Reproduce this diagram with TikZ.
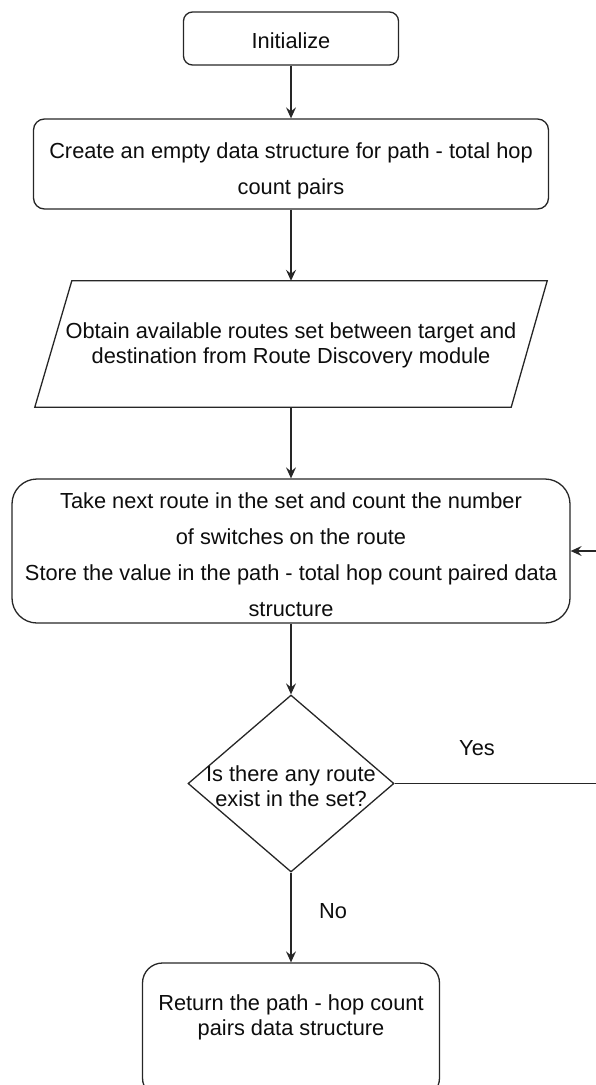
\documentclass[tikz,border=0pt]{standalone}
\usepackage{fontspec}
\setmainfont{Liberation Sans}
\usetikzlibrary{arrows.meta,shapes.geometric,calc}

\begin{document}
\begin{tikzpicture}[x=1pt,y=-1pt,
  line/.style={draw=black!85,line width=1.3pt},
  flow/.style={line,-{Stealth[length=11pt,width=10pt,inset=4pt]}},
  txt/.style={inner sep=0pt,align=center,text=black!95,
    font=\fontsize{21.8}{25}\selectfont},
  widetxt/.style={txt,font=\fontsize{21.8}{36}\selectfont},
  box/.style={line,rounded corners=#1,inner sep=0pt},
]
\useasboundingbox (0,0) rectangle (595,1085);

% process steps
\node[box=9pt,minimum width=215pt,minimum height=53pt,
  label={[txt,yshift=-2pt]center:Initialize}] (init) at (291,38.5) {};
\node[box=11pt,minimum width=515pt,minimum height=90pt,
  label={[widetxt,yshift=-7pt]center:{Create an empty data structure for path - total hop\\count pairs}}]
  (create) at (291,164) {};

% input/output step (parallelogram)
\node[inner sep=0pt,minimum width=512pt,minimum height=126pt,
  label={[txt,yshift=-1pt]center:{Obtain available routes set between target and\\destination from Route Discovery module}}]
  (routes) at (291,344) {};
\draw[line] ($(routes.north west)+(37,0)$) -- (routes.north east)
  -- ($(routes.south east)+(-36,0)$) -- (routes.south west) -- cycle;

\node[box=25pt,minimum width=558pt,minimum height=144pt,
  label={[widetxt,yshift=-4pt]center:{Take next route in the set and count the number\\of switches on the route\\Store the value in the path - total hop count paired data\\structure}}]
  (take) at (291,551) {};

% decision
\node[line,diamond,minimum width=206pt,minimum height=177pt,inner sep=0pt,
  label={[txt,yshift=-3pt]center:{Is there any route\\exist in the set?}}] (check) at (291,783.5) {};

\node[box=20pt,minimum width=297pt,minimum height=135pt,
  label={[txt,yshift=13.5pt]center:{Return the path - hop count\\pairs data structure}}] (ret) at (291,1030.5) {};

% branch labels
\node[txt] (yes) at (477,748) {Yes};
\node[txt] (no) at (333,911) {No};

% connectors
\coordinate (loop) at (608,783.5);
\draw[flow] (init.south) -- (create.north);
\draw[flow] (create.south) -- (routes.north);
\draw[flow] (routes.south) -- (take.north);
\draw[flow] (take.south) -- (check.north);
\draw[flow] (check.south) -- (ret.north);
\draw[flow] (check.east) -- (loop) |- (take.east);
\end{tikzpicture}
\end{document}
